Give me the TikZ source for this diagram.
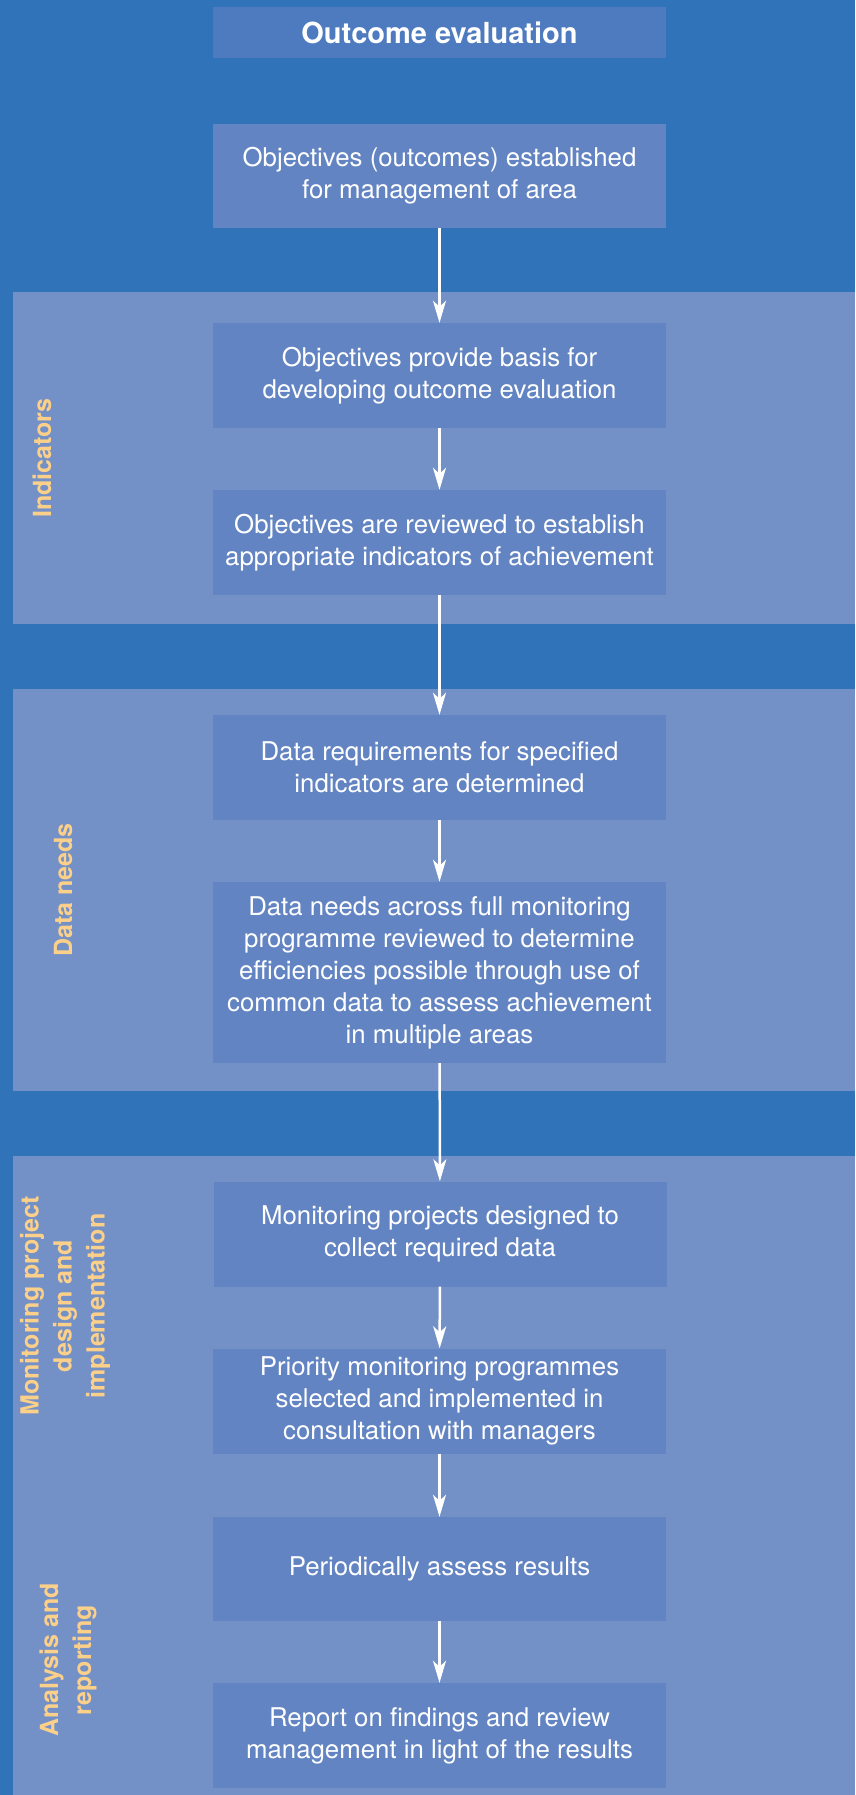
\documentclass[tikz,border=0pt]{standalone}
\usepackage{fontspec}
\setmainfont{TeX Gyre Heros}
\usepackage{tikz}
\usetikzlibrary{arrows.meta}

\definecolor{deepblue}{RGB}{48,115,185}
\definecolor{bandblue}{RGB}{115,145,199}
\definecolor{boxblue}{RGB}{98,132,194}
\definecolor{titleblue}{RGB}{78,123,191}
\definecolor{labelorange}{RGB}{253,208,138}

\begin{document}
\begin{tikzpicture}[x=1pt, y=-1pt,
    box/.style={fill=boxblue, text=white, minimum width=453pt, minimum height=105pt,
      inner sep=0pt, align=center, font=\fontsize{25.8}{32}\selectfont},
    side/.style={text=labelorange, rotate=90, align=center,
      font=\fontsize{25}{33}\selectfont\bfseries},
    flow/.style={-{Stealth[length=22pt, width=13pt, inset=6pt]}, white, line width=2.5pt}]
  \useasboundingbox (0, 0) rectangle (855, 1795);
  \fill[deepblue] (0, 0) rectangle (855, 1795);
  % stage bands
  \fill[bandblue] (13, 292) rectangle (855, 624);
  \fill[bandblue] (13, 689) rectangle (855, 1091);
  \fill[bandblue] (13, 1156) rectangle (855, 1795);

  \node[box, fill=titleblue, minimum height=51pt, font=\fontsize{29}{34}\selectfont\bfseries]
    (title) at (439.5, 32.5) {Outcome evaluation};
  \node[box, minimum height=104pt] (obj) at (439.5, 176)
    {Objectives (outcomes) established\\for management of area};
  \node[box] (basis) at (439.5, 375.5)
    {Objectives provide basis for\\developing outcome evaluation};
  \node[box] (review) at (439.5, 542.5)
    {Objectives are reviewed to establish\\appropriate indicators of achievement};
  \node[box] (req) at (439.5, 767.5)
    {Data requirements for specified\\indicators are determined};
  \node[box, minimum height=181pt] (needs) at (439.5, 972.5)
    {Data needs across full monitoring\\programme reviewed to determine\\efficiencies possible through use of\\common data to assess achievement\\in multiple areas};
  \node[box] (design) at (440, 1234)
    {Monitoring projects designed to\\collect required data};
  \node[box] (select) at (439.5, 1401)
    {Priority monitoring programmes\\selected and implemented in\\consultation with managers};
  \node[box, minimum height=104pt] (assess) at (439.5, 1569)
    {Periodically assess results};
  \node[box] (report) at (439.5, 1735.5)
    {Report on findings and review\\management in light of the results};

  % stage labels
  \node[side] (lind) at (42, 458) {Indicators};
  \node[side] (ldata) at (63, 890) {Data needs};
  \node[side] (lmon) at (65, 1306) {Monitoring project\\design and\\implementation};
  \node[side] (lana) at (68, 1660) {Analysis and\\reporting};

  \draw[flow] (obj) -- (basis);
  \draw[flow] (basis) -- (review);
  \draw[flow] (review) -- (req);
  \draw[flow] (req) -- (needs);
  \draw[flow] (needs) -- (design);
  \draw[flow] (design) -- (select);
  \draw[flow] (select) -- (assess);
  \draw[flow] (assess) -- (report);
\end{tikzpicture}
\end{document}
